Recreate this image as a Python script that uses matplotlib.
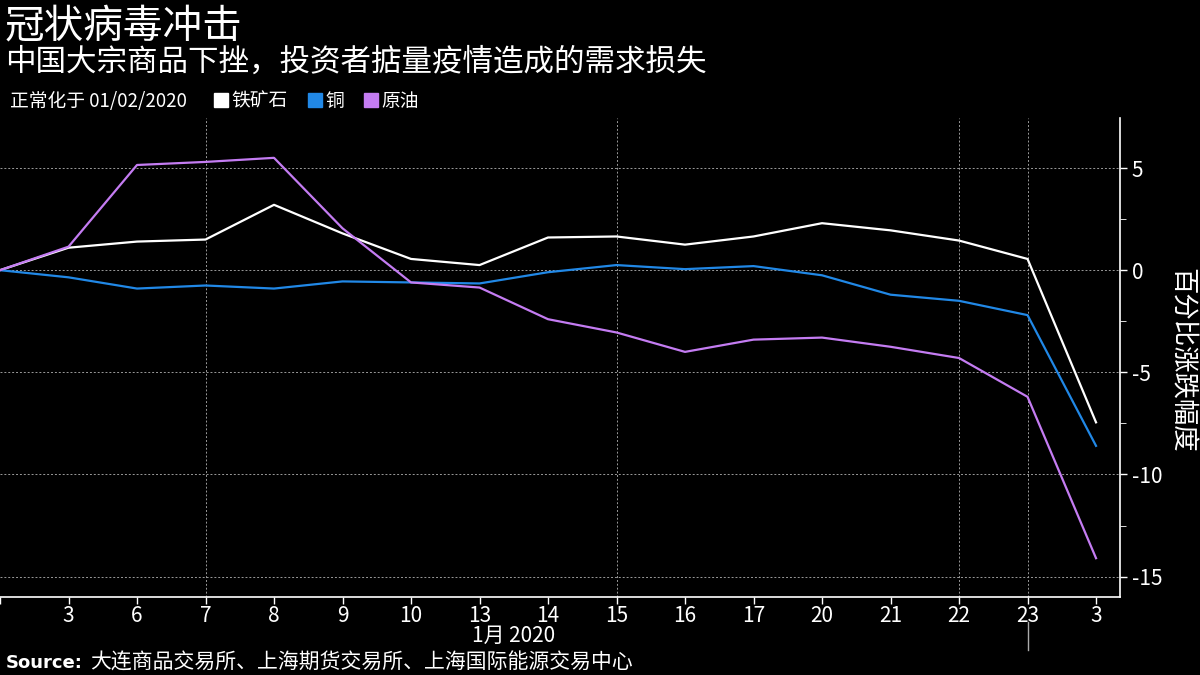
import matplotlib
matplotlib.use('Agg')
import matplotlib.pyplot as plt
from matplotlib.lines import Line2D
import matplotlib.transforms as mtrans

plt.rcParams['font.family'] = ['Noto Sans CJK SC', 'DejaVu Sans']

# trading days, 2 Jan 2020 .. 3 Feb 2020 (first one has no label)
day_labels = ['', '3', '6', '7', '8', '9', '10', '13', '14', '15', '16', '17',
              '20', '21', '22', '23', '3']
iron_ore = [0, 1.1, 1.4, 1.5, 3.2, 1.8, 0.55, 0.25, 1.6, 1.65, 1.25, 1.65,
            2.3, 1.95, 1.45, 0.55, -7.45]
copper = [0, -0.35, -0.9, -0.75, -0.9, -0.55, -0.6, -0.65, -0.1, 0.25, 0.05,
          0.2, -0.25, -1.2, -1.5, -2.2, -8.6]
crude = [0, 1.15, 5.15, 5.3, 5.5, 2.05, -0.6, -0.85, -2.4, -3.05, -4.0,
         -3.4, -3.3, -3.75, -4.3, -6.2, -14.1]
series_names = ['铁矿石', '铜', '原油']
series_colors = ['#ffffff', '#2188e6', '#c47cf2']
vgrid_idx = [3, 9, 14, 15]

fig = plt.figure(figsize=(12, 6.75), dpi=100, facecolor='black')
ax = fig.add_axes([0, 1 - 597 / 675, 1120 / 1200, (597 - 118) / 675])
ax.set_facecolor('black')

x = list(range(len(day_labels)))
for vals, c in zip([iron_ore, copper, crude], series_colors):
    ax.plot(x, vals, color=c, lw=1.6, zorder=3)

ax.set_xlim(0, 16.35)
ax.set_ylim(-16.0, 7.45)

ax.set_xticks(x)
ax.set_xticklabels(day_labels)
ax.yaxis.tick_right()
ax.yaxis.set_label_position('right')
ax.set_yticks([-15, -10, -5, 0, 5])
ax.set_yticklabels(['-15', '-10', '-5', '0', '5'])
ax.set_yticks([-12.5, -7.5, -2.5, 2.5], minor=True)
ax.tick_params(colors='white', labelsize=15, length=5, width=1)
ax.tick_params(axis='y', which='minor', length=4, colors='white')
ax.tick_params(axis='x', pad=1)

for s in ['top', 'left']:
    ax.spines[s].set_visible(False)
for s in ['bottom', 'right']:
    ax.spines[s].set_color('white')
    ax.spines[s].set_linewidth(1.2)

for yv in [-15, -10, -5, 0, 5]:
    ax.axhline(yv, color='#9a9a9a', lw=0.7, ls=(0, (2, 2)), zorder=1)
for xi in vgrid_idx:
    ax.axvline(xi, color='#9a9a9a', lw=0.7, ls=(0, (2, 2)), zorder=1)

# y label drawn as figure text so it sits where the reference has it
fig.text(1181 / 1200, 1 - 360 / 675, '百分比涨跌幅度', color='white',
         fontsize=19, rotation=270, ha='center', va='center')

# month label and separator
ax.text(7.5, -(636 - 597) / 479, '1月 2020', transform=ax.get_xaxis_transform(),
        ha='center', va='center', color='white', fontsize=15)
trans = mtrans.blended_transform_factory(ax.transData, fig.transFigure)
ax.add_line(Line2D([15, 15], [1 - 622 / 675, 1 - 650 / 675], transform=trans,
                   color='#aaaaaa', lw=1, clip_on=False))

fig.text(0.004, 1 - 26 / 675, '冠状病毒冲击', color='white', fontsize=28.5,
         va='center', ha='left')
fig.text(0.004, 1 - 62 / 675, '中国大宗商品下挫，投资者掂量疫情造成的需求损失',
         color='white', fontsize=22, va='center', ha='left')
fig.text(10 / 1200, 1 - 101 / 675, '正常化于 01/02/2020', color='white',
         fontsize=13.5, va='center', ha='left')

handles = [Line2D([], [], marker='s', ls='none', color=c, markersize=10)
           for c in series_colors]
leg = ax.legend(handles, series_names, loc='center left',
                bbox_to_anchor=(205 / 1200, 1 - 101 / 675),
                bbox_transform=fig.transFigure, ncol=3, frameon=False,
                fontsize=13.5, handlelength=0.7, handletextpad=0.2,
                columnspacing=1.1, borderpad=0)
for t in leg.get_texts():
    t.set_color('white')

fig.text(6 / 1200, 1 - 663 / 675, 'Source:', color='white', fontsize=13,
         fontweight='bold', va='center', ha='left', family='DejaVu Sans')
fig.text(90 / 1200, 1 - 663 / 675, '大连商品交易所、上海期货交易所、上海国际能源交易中心',
         color='white', fontsize=15, va='center', ha='left')

fig.savefig('out.png', dpi=100, facecolor='black')
